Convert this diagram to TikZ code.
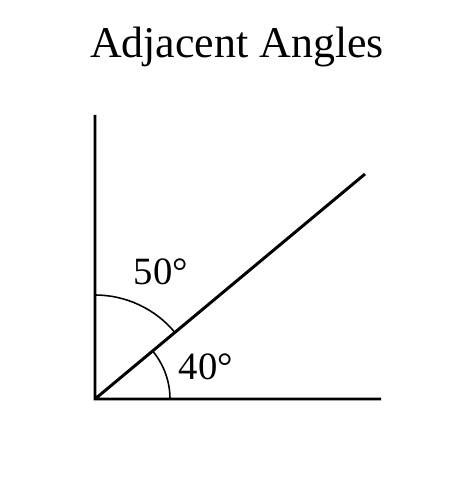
\documentclass[tikz,border=0pt]{standalone}
\usepackage{fontspec}
\setmainfont{Liberation Serif}
\begin{document}
\begin{tikzpicture}[x=0.02cm,y=0.02cm,font=\fontsize{22}{26}\selectfont]
	\def\ang{39.81} % góc của tia chéo
	\useasboundingbox (0,0) rectangle (474,500);
	\coordinate (O) at (95,101);
	\coordinate (Y) at (95,385);
	\coordinate (X) at (381,101);
	\coordinate (D) at (365,326);
	\node (title) at (237,453) {\fontsize{25}{30}\selectfont Adjacent Angles};
	\draw[line width=1.7pt] (Y)--(O)--(X) (O)--(D);
	\draw[line width=0.9pt] (O) ++(75,0) arc[start angle=0,end angle=\ang,radius=75];
	\draw[line width=0.9pt] (O) ++(\ang:104) arc[start angle=\ang,end angle=90,radius=104];
	\node (a50) at (161,228) {50°};
	\node (a40) at (206,133) {40°};
\end{tikzpicture}
\end{document}
